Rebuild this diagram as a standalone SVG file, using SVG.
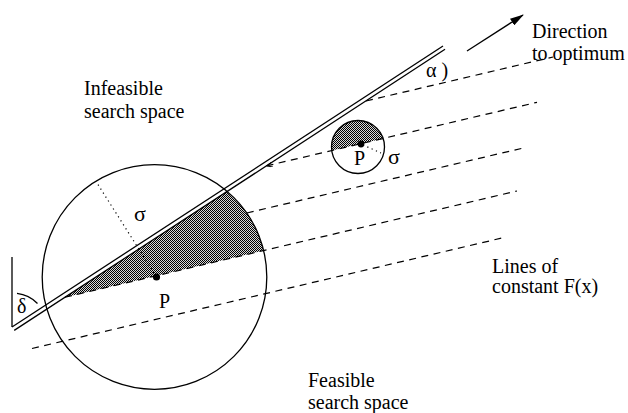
<svg xmlns="http://www.w3.org/2000/svg" width="628" height="413" viewBox="0 0 628 413">
<style>
.t{font-family:"Liberation Serif","Times New Roman",serif;font-size:20px;fill:#000}
.s{font-size:22px}
.ln{stroke:#000;stroke-width:1.3;fill:none}
.dash{stroke:#000;stroke-width:1.2;fill:none;stroke-dasharray:7 5.5}
.dot{stroke:#000;stroke-width:1.2;fill:none;stroke-dasharray:1.2 3.5}
.circ{stroke:#000;stroke-width:1.3;fill:none}
</style>
<defs>
<pattern id="chk" width="2" height="2" patternUnits="userSpaceOnUse">
<rect width="2" height="2" fill="#d8d8d8"/>
<rect x="0" y="0" width="1" height="1" fill="#000"/>
<rect x="1" y="1" width="1" height="1" fill="#000"/>
</pattern>
<marker id="ah" markerWidth="14" markerHeight="8" refX="13" refY="4" orient="auto" markerUnits="userSpaceOnUse">
<path d="M0,0 L14,4 L0,8 Z" fill="#000"/>
</marker>
<marker id="tip" markerWidth="6" markerHeight="5" refX="0" refY="2.5" orient="auto" markerUnits="userSpaceOnUse">
<path d="M6,0 L0,2.5 L6,5" fill="none" stroke="#000" stroke-width="1"/>
</marker>
</defs>
<rect width="628" height="413" fill="#fff"/>

<g id="regions">
<path id="shade-big" d="M65,297.2 L227.2,191.4 A112.3 112.3 0 0 1 263.6,250.5 Z" fill="url(#chk)"/>
<path id="shade-small" d="M331.74,150.54 A26.5 26.5 0 0 1 383.09,138.47 Z" fill="url(#chk)"/>
</g>

<g id="connectors">
<path id="f1" class="dash" d="M366,101 L553,57"/>
<path id="f2" class="dash" d="M266.5,165.9 L537,102.3" marker-start="url(#tip)"/>
<path id="f3" class="dash" d="M246.8,213 L522,148.3"/>
<path id="f4" class="dash" d="M65,297.2 L517,191"/>
<path id="f5" class="dash" d="M32,348.5 L502,238"/>
<path id="constraint-a" class="ln" d="M12,327 L443,46"/>
<path id="constraint-b" class="ln" d="M14.2,330.4 L445,49.3"/>
<path id="vertical" class="ln" d="M12,257 L12,327"/>
<path id="delta-arc" class="ln" d="M17,293.4 A34 34 0 0 1 37.5,303.5"/>
<path id="sigma-big" class="dot" d="M156.5,277 L97,183"/>
<path id="sigma-small" class="dot" d="M363,145 L381,153"/>
<path id="direction" class="ln" d="M467,51 L523,15" marker-end="url(#ah)"/>
</g>

<g id="big-circle">
<circle class="circ" cx="154.5" cy="277" r="112.3"/>
<circle cx="156.5" cy="277" r="3.6" fill="#000"/>
<text class="t" x="159" y="308">P</text>
<text class="t s" x="134" y="221">σ</text>
</g>

<g id="small-circle">
<circle class="circ" cx="358" cy="147" r="26.5"/>
<circle cx="361" cy="144" r="3.4" fill="#000"/>
<text class="t" x="354" y="165">P</text>
<text class="t s" x="388" y="164">σ</text>
</g>

<g id="labels">
<text class="t" x="84" y="95">Infeasible</text>
<text class="t" x="84" y="118">search space</text>
<text class="t" x="532" y="38">Direction</text>
<text class="t" x="532" y="60">to optimum</text>
<text class="t" x="426" y="77">α )</text>
<text class="t" x="17" y="313">δ</text>
<text class="t" x="492" y="273">Lines of</text>
<text class="t" x="492" y="293">constant F(x)</text>
<text class="t" x="308" y="387">Feasible</text>
<text class="t" x="308" y="409">search space</text>
</g>
</svg>
